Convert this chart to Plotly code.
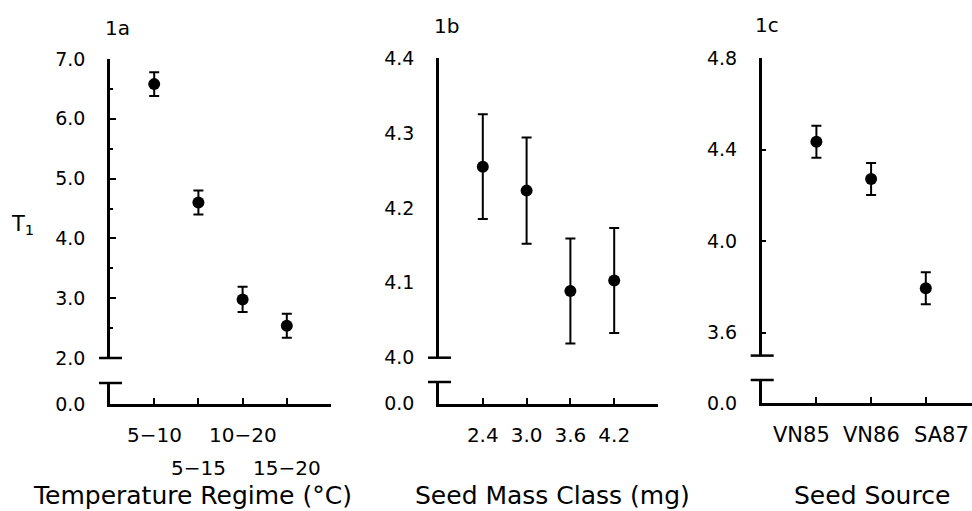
import plotly.graph_objects as go

# ---------------- data ----------------
temp_regimes = ["5−10", "5−15", "10−20", "15−20"]
t1_temp = [6.58, 4.60, 2.98, 2.54]
t1_temp_err = [0.20, 0.20, 0.21, 0.20]

mass_classes = ["2.4", "3.0", "3.6", "4.2"]
t1_mass = [4.255, 4.223, 4.089, 4.103]
t1_mass_err = [0.070, 0.071, 0.070, 0.070]

sources = ["VN85", "VN86", "SA87"]
t1_src = [4.434, 4.271, 3.794]
t1_src_err = [0.070, 0.070, 0.070]

panel_labels = ["1a", "1b", "1c"]
x_titles = ["Temperature Regime (°C)", "Seed Mass Class (mg)", "Seed Source"]

# ---------------- layout helpers (pixels -> paper) ----------------
W, H = 972, 511
FONT = "DejaVu Sans"


def px(p):
    return p / W


def py(p):
    return 1 - p / H


fig = go.Figure()

# panel geometry: (axis x px, axis right px, upper top px, upper bottom px, lower top px, lower bottom px)
geom = [
    (110, 331, 59, 358, 383, 404),
    (439, 658, 58, 357.7, 382, 403.5),
    (761.7, 972, 58, 355.6, 380, 403),
]

datasets = [
    (temp_regimes, t1_temp, t1_temp_err),
    (mass_classes, t1_mass, t1_mass_err),
    (sources, t1_src, t1_src_err),
]

for i, (cats, vals, errs) in enumerate(datasets):
    xa = "x" if i == 0 else f"x{i + 1}"
    ya_up = "y" if i == 0 else f"y{2 * i + 1}"
    ya_low = f"y{2 * i + 2}"
    fig.add_trace(go.Scatter(
        x=list(range(1, len(cats) + 1)), y=vals,
        xaxis=xa, yaxis=ya_up, mode="markers",
        marker=dict(color="black", size=12),
        error_y=dict(type="data", array=errs, visible=True,
                     color="black", thickness=2, width=5),
        showlegend=False, hoverinfo="x+y",
    ))
    # empty trace so the lower (broken) axis segment exists
    fig.add_trace(go.Scatter(x=[None], y=[None], xaxis=xa, yaxis=ya_low,
                             mode="markers", showlegend=False, hoverinfo="skip"))

axis_common = dict(showgrid=False, zeroline=False, color="black", automargin=False,
                   linecolor="black", linewidth=2.5, showline=True,
                   tickfont=dict(family=FONT, size=19, color="black"))

lay = dict(
    width=W, height=H, margin=dict(l=0, r=0, t=0, b=0, pad=0),
    paper_bgcolor="white", plot_bgcolor="white", showlegend=False,
)

upper_ranges = [[2.0, 7.0], [4.0, 4.4], [3.5, 4.8]]
upper_ticks = [
    ([2, 3, 4, 5, 6, 7], ["2.0", "3.0", "4.0", "5.0", "6.0", "7.0"]),
    ([4.0, 4.1, 4.2, 4.3, 4.4], ["4.0", "4.1", "4.2", "4.3", "4.4"]),
    ([3.6, 4.0, 4.4, 4.8], ["3.6", "4.0", "4.4", "4.8"]),
]
x_ranges = [[0, 5], [0, 5], [0, (972 - 761.7) / 54.7]]

for i in range(3):
    ax, ar, ut, ub, lt, lb = geom[i]
    xname = "xaxis" if i == 0 else f"xaxis{i + 1}"
    yup = "yaxis" if i == 0 else f"yaxis{2 * i + 1}"
    ylow = f"yaxis{2 * i + 2}"
    xref = "x" if i == 0 else f"x{i + 1}"
    n = len(datasets[i][0])

    tv, tt = upper_ticks[i]
    up = dict(axis_common, domain=[py(ub), py(ut)], range=upper_ranges[i],
              anchor=xref, tickvals=tv, ticktext=tt, ticklabelstandoff=18)
    if i == 0:
        up.update(ticks="inside", ticklen=6, tickwidth=2, tickcolor="black",
                  minor=dict(dtick=0.5, ticks="inside", ticklen=3,
                             tickwidth=1.5, tickcolor="black"))
    elif i == 2:
        up.update(ticks="inside", ticklen=5, tickwidth=1.5, tickcolor="black")
    else:
        up.update(ticks="")
    lay[yup] = up

    lay[ylow] = dict(axis_common, domain=[py(lb), py(lt)], range=[0, 1],
                     anchor=xref, tickvals=[0], ticktext=["0.0"], ticks="",
                     ticklabelstandoff=18)

    xa = dict(axis_common, domain=[px(ax), min(px(ar), 1.0)], range=x_ranges[i],
              anchor=f"y{2 * i + 2}", ticks="inside", ticklen=6, tickwidth=2,
              tickcolor="black", tickvals=list(range(1, n + 1)), tickangle=0,
              showticklabels=(i == 1), ticktext=list(datasets[i][0]),
              ticklabelstandoff=12,
              minor=dict(tickvals=[n + 1], ticks="inside", ticklen=6, tickwidth=2,
                         tickcolor="black"),
              tickfont=dict(family=FONT, size=20, color="black"))
    lay[xname] = xa

fig.update_layout(**lay)

# axis-break caps
for i in range(3):
    ax, ar, ut, ub, lt, lb = geom[i]
    for yy in (ub, lt):
        fig.add_shape(type="line", xref="paper", yref="paper",
                      x0=px(ax - 11), x1=px(ax + 12), y0=py(yy), y1=py(yy),
                      line=dict(color="black", width=2.5))

# staggered category labels for panel 1a
row_y = [434.5, 467.5]
for k, lab in enumerate(temp_regimes):
    fig.add_annotation(x=k + 1, xref="x", y=py(row_y[k % 2]), yref="paper",
                       text=lab, showarrow=False, xanchor="center", yanchor="middle",
                       font=dict(family=FONT, size=20, color="black"))

# seed-source labels (set wider apart than the ticks in the original)
src_shift = [-0.27, 0.0, 0.29]
for k, lab in enumerate(sources):
    fig.add_annotation(x=k + 1 + src_shift[k], xref="x3", y=py(434.5), yref="paper",
                       text=lab, showarrow=False, xanchor="center", yanchor="middle",
                       font=dict(family=FONT, size=21, color="black"))

# axis titles
title_cx = [192.5, 552.5, 872]
for i in range(3):
    fig.add_annotation(x=px(title_cx[i]), xref="paper", y=py(495), yref="paper",
                       text=x_titles[i], showarrow=False, xanchor="center",
                       yanchor="middle",
                       font=dict(family=FONT, size=25, color="black"))

# panel labels
lab_pos = [(117, 28), (446, 26), (767, 25)]
for i in range(3):
    fig.add_annotation(x=px(lab_pos[i][0]), xref="paper", y=py(lab_pos[i][1]),
                       yref="paper", text=panel_labels[i], showarrow=False,
                       xanchor="center", yanchor="middle",
                       font=dict(family=FONT, size=20, color="black"))

# y-axis title T1
fig.add_annotation(x=px(22), xref="paper", y=py(225), yref="paper",
                   text="T<sub>1</sub>", showarrow=False, xanchor="center",
                   yanchor="middle", font=dict(family=FONT, size=21, color="black"))

fig.write_html("out.html", config={"displayModeBar": False},
               post_script="document.body.style.margin='0px';")
